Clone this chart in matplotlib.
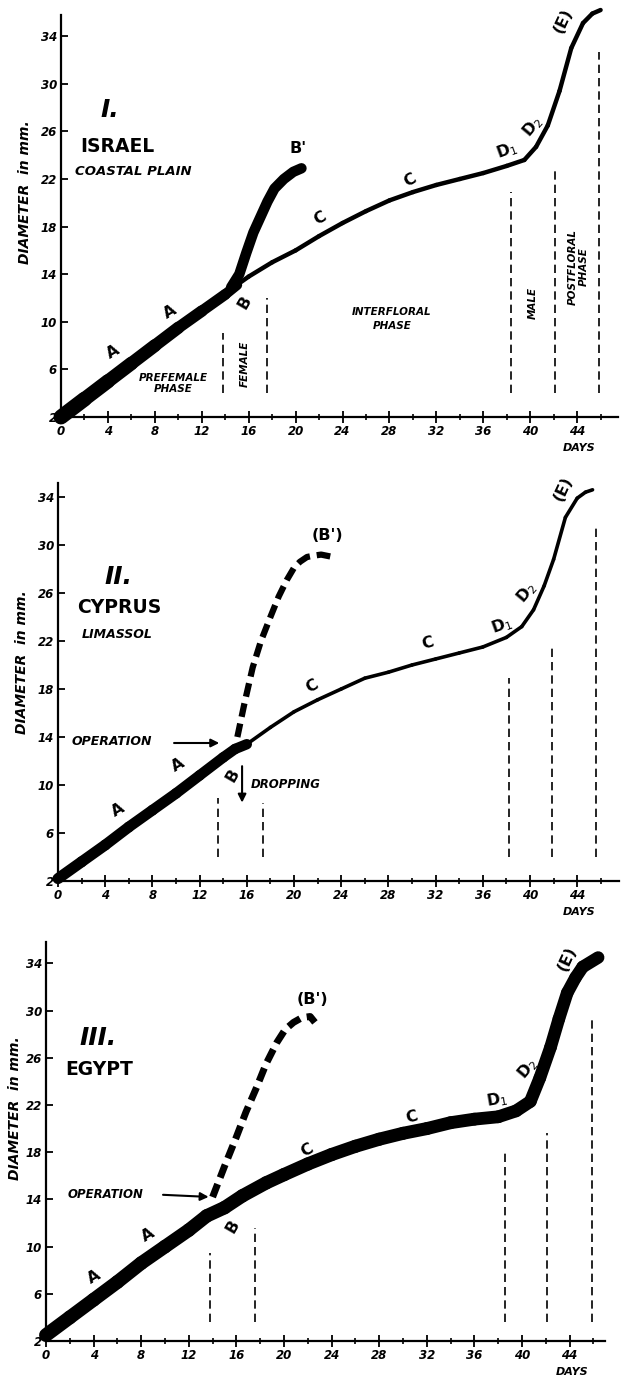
import numpy as np
import matplotlib
matplotlib.use("Agg")
import matplotlib.pyplot as plt
from matplotlib.collections import LineCollection

plt.rcParams['font.family'] = ['DejaVu Sans']

# ---------------- data ----------------
x_tick_values = [0, 4, 8, 12, 16, 20, 24, 28, 32, 36, 40, 44]
x_minor_values = [2, 6, 10, 14, 18, 22, 26, 30, 34, 38, 42, 46]
y_tick_values = [2, 6, 10, 14, 18, 22, 26, 30, 34]

# Panel I - Israel
p1_days = [0, 2, 4, 6, 8, 10, 12, 14, 15, 16, 18, 20, 22, 24, 26, 28, 30, 32, 34,
           36, 38, 39.5, 40.5, 41.5, 42.5, 43.5, 44.5, 45.3, 46]
p1_diam = [2, 3.5, 5, 6.5, 8, 9.5, 10.9, 12.3, 13.1, 13.8, 15.0, 16.0, 17.2, 18.3, 19.3,
           20.2, 20.9, 21.5, 22.0, 22.5, 23.1, 23.6, 24.7, 26.5, 29.4, 33.0, 35.1, 35.9, 36.2]
p1_b_days = [14.5, 15.2, 15.8, 16.4, 17, 17.6, 18.2, 19, 19.8, 20.5]
p1_b_diam = [12.9, 14, 15.8, 17.5, 18.8, 20.1, 21.2, 22.0, 22.6, 22.9]
p1_phase_days = [13.8, 17.6, 38.4, 42.1, 45.9]
p1_phase_top = [9.1, 12.0, 20.9, 22.8, 32.7]

# Panel II - Cyprus
p2_days = [0, 2, 4, 6, 8, 10, 12, 14, 15, 16, 18, 20, 22, 24, 26, 28, 30, 32, 34, 36,
           38, 39.3, 40.3, 41.2, 42, 43, 44, 44.7, 45.3]
p2_diam = [2.2, 3.6, 5.0, 6.5, 7.9, 9.3, 10.8, 12.3, 13.0, 13.4, 14.8, 16.1, 17.1, 18.0,
           18.9, 19.4, 20.0, 20.5, 21.0, 21.5, 22.3, 23.2, 24.6, 26.6, 28.8, 32.3, 33.9,
           34.4, 34.6]
p2_b_days = [15.2, 15.8, 16.5, 17.2, 18, 18.7, 19.4, 20, 20.5, 21.1, 21.6, 22.3, 23.3]
p2_b_diam = [14, 16.8, 19.8, 22, 24, 25.7, 27.1, 28.1, 28.6, 29, 29.1, 29.2, 29.0]
p2_phase_days = [13.6, 17.4, 38.2, 41.9, 45.6]
p2_phase_top = [8.9, 8.5, 18.9, 21.5, 31.5]

# Panel III - Egypt
p3_days = [0, 2, 4, 6, 8, 10, 12, 13.5, 15, 16.5, 18.5, 20, 22, 24, 26, 28, 30, 32, 34,
           36, 38, 39.5, 40.7, 41.5, 42.4, 43.1, 43.8, 44.5, 45.1, 46.4]
p3_diam = [2.5, 4.0, 5.5, 7.0, 8.6, 10.0, 11.4, 12.6, 13.3, 14.3, 15.4, 16.1, 17.0, 17.8,
           18.5, 19.1, 19.6, 20.0, 20.5, 20.8, 21.0, 21.5, 22.3, 24.3, 26.9, 29.3, 31.5,
           32.8, 33.7, 34.5]
p3_b_days = [14, 15, 16, 16.8, 17.7, 18.5, 19.4, 20.1, 20.8, 21.5, 22.2, 22.6]
p3_b_diam = [14.2, 16.8, 19.3, 21.4, 23.5, 25.5, 27.3, 28.4, 29.0, 29.4, 29.5, 29.0]
p3_phase_days = [13.8, 17.6, 38.6, 42.1, 45.9]
p3_phase_top = [9.5, 11.6, 17.9, 19.6, 29.5]

# ---------------- figure ----------------
fig = plt.figure(figsize=(6.21, 13.89), dpi=100)
W, H = 621.0, 1389.0

LAB = dict(fontweight='bold', fontstyle='italic', color='black')


def make_axes(left_px, bottom_px, top_px, x_scale, y_scale, xmax):
    width_px = xmax * x_scale
    ax = fig.add_axes([left_px / W, 1 - bottom_px / H, width_px / W, (bottom_px - top_px) / H])
    ax.set_xlim(0, xmax)
    ax.set_ylim(2, 2 + (bottom_px - top_px) / y_scale)
    for s in ['top', 'right']:
        ax.spines[s].set_visible(False)
    for s in ['left', 'bottom']:
        ax.spines[s].set_linewidth(1.6)
    ax.set_xticks(x_tick_values)
    ax.set_xticklabels([str(v) for v in x_tick_values])
    ax.set_xticks(x_minor_values, minor=True)
    ax.tick_params(axis='x', which='major', direction='inout', length=8, width=1.3,
                   labelsize=8.5, pad=2)
    ax.tick_params(axis='x', which='minor', direction='inout', length=5, width=1.2)
    ax.set_yticks(y_tick_values)
    ax.set_yticklabels([str(v) for v in y_tick_values])
    ax.tick_params(axis='y', direction='in', length=5, width=1.3, labelsize=8.5, pad=3)
    for lab in ax.get_xticklabels() + ax.get_yticklabels():
        lab.set_fontstyle('italic')
        lab.set_fontweight('bold')
    ax.text(44.2, -0.2, 'DAYS', fontsize=8, ha='center', va='top', clip_on=False, **LAB)
    return ax


def tapered(ax, x, y, w_start, w_end, until, w_thin):
    x = np.asarray(x, float)
    y = np.asarray(y, float)
    pts = np.column_stack([x, y])
    segs = np.stack([pts[:-1], pts[1:]], axis=1)
    mid = (x[:-1] + x[1:]) / 2
    widths = np.where(mid <= until, w_start + (w_end - w_start) * mid / until, w_thin)
    lc = LineCollection(segs, linewidths=widths, colors='black', capstyle='round',
                        joinstyle='round', clip_on=False, zorder=3)
    ax.add_collection(lc)


def phases(ax, days, tops, bottom=4.0):
    for d, t in zip(days, tops):
        ax.plot([d, d], [bottom, t], color='black', lw=1.2, ls=(0, (5, 3)), zorder=2)


def ylabel(x_px, y_px):
    fig.text(x_px / W, 1 - y_px / H, 'DIAMETER  in mm.', rotation=90, fontsize=10,
             ha='center', va='center', **LAB)


# ---------- Panel I ----------
ax1 = make_axes(61, 417, 15, 11.73, 11.9, 47.5)
tapered(ax1, p1_days, p1_diam, 11, 7.5, 14.7, 3.2)
ax1.plot(p1_b_days, p1_b_diam, color='black', lw=7.5, solid_capstyle='round', zorder=3)
phases(ax1, p1_phase_days, p1_phase_top)
ylabel(25, 192)
ax1.text(4.2, 27.8, 'I.', fontsize=18, ha='center', va='center', **LAB)
ax1.text(1.6, 24.7, 'ISRAEL', fontsize=13.5, ha='left', va='center', fontweight='bold')
ax1.text(1.2, 22.6, 'COASTAL PLAIN', fontsize=9.5, ha='left', va='center', **LAB)
ax1.text(9.6, 4.8, 'PREFEMALE\nPHASE', fontsize=7.5, ha='center', va='center',
         linespacing=1.1, **LAB)
ax1.text(15.7, 6.5, 'FEMALE', fontsize=7.5, rotation=90, ha='center', va='center', **LAB)
ax1.text(28.2, 10.2, 'INTERFLORAL\nPHASE', fontsize=7.5, ha='center', va='center',
         linespacing=1.5, **LAB)
ax1.text(40.2, 11.6, 'MALE', fontsize=7.5, rotation=90, ha='center', va='center', **LAB)
ax1.text(44.1, 14.6, 'POSTFLORAL\nPHASE', fontsize=7.5, rotation=90, ha='center',
         va='center', linespacing=1.1, **LAB)
for (tx, ty, s, r) in [(4.4, 7.5, 'A', 30), (9.3, 10.8, 'A', 30), (15.7, 11.6, 'B', 60),
                        (20.2, 24.6, "B'", 0), (22.1, 18.7, 'C', 30), (29.8, 21.9, 'C', 30),
                        (38.0, 24.4, 'D$_1$', 20), (40.2, 26.4, 'D$_2$', 50),
                        (42.8, 35.3, '(E)', 65)]:
    ax1.text(tx, ty, s, fontsize=11.5, rotation=r, ha='center', va='center', fontweight='bold')

# ---------- Panel II ----------
ax2 = make_axes(58, 881, 483, 11.8, 12.0, 47.5)
tapered(ax2, p2_days, p2_diam, 8, 7.5, 15.6, 2.6)
ax2.plot(p2_b_days, p2_b_diam, color='black', lw=4.5, ls=(0, (2.2, 1.1)), zorder=3)
phases(ax2, p2_phase_days, p2_phase_top)
ylabel(22, 662)
ax2.text(5.1, 27.3, 'II.', fontsize=18, ha='center', va='center', **LAB)
ax2.text(5.2, 24.8, 'CYPRUS', fontsize=13.5, ha='center', va='center', fontweight='bold')
ax2.text(5.0, 22.5, 'LIMASSOL', fontsize=9, ha='center', va='center', **LAB)
ax2.text(4.6, 13.6, 'OPERATION', fontsize=9, ha='center', va='center', **LAB)
ax2.annotate('', xy=(13.9, 13.5), xytext=(9.6, 13.5),
             arrowprops=dict(arrowstyle='-|>', color='black', lw=1.5, mutation_scale=12))
ax2.annotate('', xy=(15.6, 8.3), xytext=(15.6, 11.8),
             arrowprops=dict(arrowstyle='-|>', color='black', lw=1.5, mutation_scale=12))
ax2.text(16.3, 10.0, 'DROPPING', fontsize=8.5, ha='left', va='center', **LAB)
for (tx, ty, s, r) in [(5.1, 7.9, 'A', 30), (10.2, 11.7, 'A', 30), (14.8, 10.8, 'B', 60),
                        (22.8, 30.8, "(B')", 0), (21.5, 18.2, 'C', 30), (31.3, 21.8, 'C', 15),
                        (37.6, 23.3, 'D$_1$', 20), (39.7, 26.0, 'D$_2$', 50),
                        (42.8, 34.7, '(E)', 65)]:
    ax2.text(tx, ty, s, fontsize=11.5, rotation=r, ha='center', va='center', fontweight='bold')

# ---------- Panel III ----------
ax3 = make_axes(46, 1341, 942, 11.9, 11.8, 47.0)
tapered(ax3, p3_days, p3_diam, 10, 9, 46.5, 9)
ax3.plot(p3_b_days, p3_b_diam, color='black', lw=5, ls=(0, (2.0, 1.0)), zorder=3)
phases(ax3, p3_phase_days, p3_phase_top, bottom=3.6)
ylabel(15, 1108)
ax3.text(4.4, 27.7, 'III.', fontsize=18, ha='center', va='center', **LAB)
ax3.text(4.5, 25.0, 'EGYPT', fontsize=13.5, ha='center', va='center', fontweight='bold')
ax3.text(5.0, 14.4, 'OPERATION', fontsize=8.5, ha='center', va='center', **LAB)
ax3.annotate('', xy=(13.9, 14.2), xytext=(9.6, 14.4),
             arrowprops=dict(arrowstyle='-|>', color='black', lw=1.5, mutation_scale=12))
for (tx, ty, s, r) in [(4.0, 7.4, 'A', 30), (8.6, 11.0, 'A', 30), (15.7, 11.7, 'B', 60),
                        (22.4, 30.9, "(B')", 0), (21.9, 18.2, 'C', 30), (30.7, 21.0, 'C', 15),
                        (37.9, 22.4, 'D$_1$', 10), (40.5, 25.1, 'D$_2$', 50),
                        (43.8, 34.4, '(E)', 65)]:
    ax3.text(tx, ty, s, fontsize=11.5, rotation=r, ha='center', va='center', fontweight='bold')

fig.savefig('out.png', dpi=100)
